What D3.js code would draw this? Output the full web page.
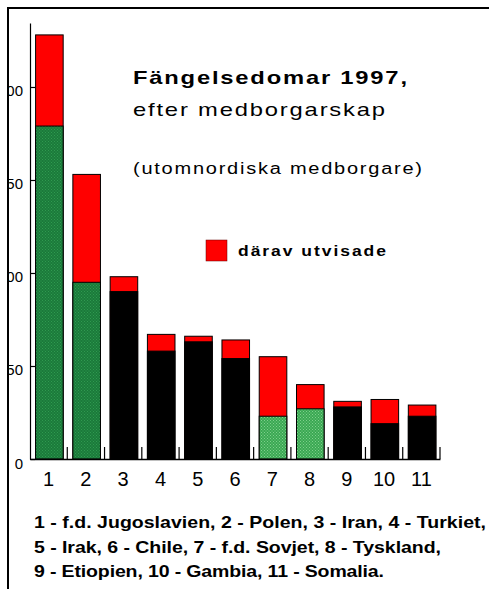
<!DOCTYPE html>
<html>
<head>
<meta charset="utf-8">
<script src="https://cdn.jsdelivr.net/npm/d3@7"></script>
<style>
  body { margin: 0; background: #fff; }
  text { font-family: "Liberation Sans", Arial, Helvetica, sans-serif; }
</style>
</head>
<body>
<div id="wrapper"></div>
<script>
// data
const countries = ["1", "2", "3", "4", "5", "6", "7", "8", "9", "10", "11"];
const totals = [228, 153, 98, 67, 66, 64, 55, 40, 31, 32, 29];       // alla domar
const notExpelled = [179, 95, 90, 58, 63, 54, 23, 27, 28, 19, 23];   // utan utvisning
const region = ["eu1", "eu1", "ov", "ov", "ov", "ov", "eu2", "eu2", "ov", "ov", "ov"];
const yTicks = [0, 50, 100, 150, 200];
const footLines = [
  "1 - f.d. Jugoslavien, 2 - Polen,  3 - Iran, 4 - Turkiet,",
  "5 - Irak, 6 - Chile, 7 - f.d. Sovjet, 8 - Tyskland,",
  "9 - Etiopien, 10 - Gambia, 11 - Somalia."
];

function draw() {
  const width = 489, height = 589;
  const svg = d3.select("#wrapper").append("svg")
    .attr("width", width)
    .attr("height", height);

  // dotted textures for the green bars
  const defs = svg.append("defs");
  const pat = (id, bg, dot) => {
    const p = defs.append("pattern")
      .attr("id", id).attr("patternUnits", "userSpaceOnUse")
      .attr("width", 3).attr("height", 3);
    p.append("rect").attr("width", 3).attr("height", 3).attr("fill", bg);
    p.append("rect").attr("x", 0).attr("y", 0).attr("width", 1).attr("height", 1).attr("fill", dot);
    p.append("rect").attr("x", 1.5).attr("y", 1.5).attr("width", 1).attr("height", 1).attr("fill", dot);
  };
  pat("g1", "#1b7a3a", "#2f9a50");
  pat("g2", "#3aa853", "#7fd08c");
  // the frame cuts the y labels (group is translated by 30)
  defs.append("clipPath").attr("id", "frameclip")
    .append("rect").attr("x", 9 - 30).attr("y", 0).attr("width", width).attr("height", height);

  const color = d3.scaleOrdinal()
    .domain(["eu1", "eu2", "ov"])
    .range(["url(#g1)", "url(#g2)", "#000"]);

  const x = d3.scaleBand().domain(countries).range([30, 440]).paddingInner(0).paddingOuter(0);
  const y = d3.scaleLinear().domain([0, 234.4]).range([459, 23]);

  const data = countries.map((c, i) => ({ c, total: totals[i], base: notExpelled[i], region: region[i] }));
  const bw = x.bandwidth() * 0.74;
  const off = x.bandwidth() * 0.15;

  const bars = svg.append("g");
  // red part (whole bar), then base part over it
  bars.selectAll("rect.red").data(data).join("rect")
    .attr("class", "red")
    .attr("x", d => x(d.c) + off)
    .attr("y", d => y(d.total))
    .attr("width", bw)
    .attr("height", d => y(0) - y(d.total))
    .attr("fill", "#ff0000")
    .attr("stroke", "#000")
    .attr("stroke-width", 1);
  bars.selectAll("rect.base").data(data).join("rect")
    .attr("class", "base")
    .attr("x", d => x(d.c) + off)
    .attr("y", d => y(d.base))
    .attr("width", bw)
    .attr("height", d => y(0) - y(d.base))
    .attr("fill", d => color(d.region))
    .attr("stroke", "#000")
    .attr("stroke-width", 1);

  // y axis
  const yAxis = svg.append("g")
    .attr("transform", "translate(30,0)")
    .call(d3.axisLeft(y).tickValues(yTicks).tickSize(-5).tickSizeOuter(0).tickPadding(7));
  yAxis.select(".domain").attr("stroke-width", 1.2);
  yAxis.selectAll(".tick line").attr("stroke-width", 1.2);
  yAxis.selectAll("text")
    .attr("font-size", 15)
    .attr("font-family", "Liberation Sans, Arial, sans-serif")
    .attr("dy", "0.6em");
  yAxis.attr("clip-path", "url(#frameclip)");

  // x axis
  const xAxis = svg.append("g")
    .attr("transform", "translate(0," + y(0) + ")")
    .call(d3.axisBottom(x).tickSize(0).tickPadding(13));
  xAxis.select(".domain").attr("stroke-width", 1.5);
  xAxis.selectAll("text")
    .attr("font-size", 20)
    .attr("font-family", "Liberation Sans, Arial, sans-serif");
  svg.append("g").selectAll("line")
    .data(countries)
    .join("line")
    .attr("x1", d => x(d) + x.step())
    .attr("x2", d => x(d) + x.step())
    .attr("y1", y(0))
    .attr("y2", y(0) - 12)
    .attr("stroke", "#000")
    .attr("stroke-width", 1.2);

  // wide text, the original lettering is stretched sideways
  const wide = (px, py, str, size, weight, len, sx) => {
    svg.append("g")
      .attr("transform", "translate(" + px + "," + py + ") scale(" + sx + ",1)")
      .append("text")
      .attr("font-size", size)
      .attr("font-weight", weight)
      .attr("textLength", len / sx)
      .attr("lengthAdjust", "spacing")
      .text(str);
  };

  // titles
  wide(133, 84, "Fängelsedomar 1997,", 19, "bold", 274, 1.25);
  wide(133, 116, "efter medborgarskap", 19, "normal", 252, 1.25);
  wide(133, 174, "(utomnordiska medborgare)", 16, "normal", 289, 1.25);

  // legend
  svg.append("rect").attr("x", 206).attr("y", 240).attr("width", 21).attr("height", 21)
    .attr("fill", "#ff0000").attr("stroke", "#600").attr("stroke-width", 0.5);
  wide(238, 256, "därav utvisade", 14, "bold", 148, 1.25);

  // country key
  const footLen = [452, 407, 350];
  footLines.forEach((t, i) => wide(34, 528 + i * 24.5, t, 16, "bold", footLen[i], 1.22));

  // frame
  svg.append("line").attr("x1", 8).attr("x2", 8).attr("y1", 7).attr("y2", height)
    .attr("stroke", "#000").attr("stroke-width", 2);
  svg.append("line").attr("x1", 7).attr("x2", width).attr("y1", 8).attr("y2", 8)
    .attr("stroke", "#000").attr("stroke-width", 2);
}
draw();
</script>
</body>
</html>
